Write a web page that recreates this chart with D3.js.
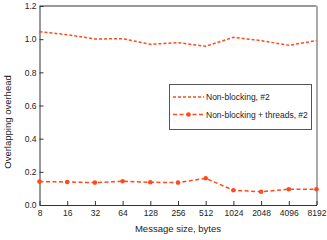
<!DOCTYPE html>
<html>
<head>
<meta charset="utf-8">
<script src="https://cdn.jsdelivr.net/npm/d3@7"></script>
<style>
  body { margin: 0; background: #fff; }
  svg { font-family: "Liberation Sans", Arial, sans-serif; }
</style>
</head>
<body>
<svg id="chart" width="327" height="240"></svg>
<script>
// message sizes (x categories)
var sizes = ["8", "16", "32", "64", "128", "256", "512", "1024", "2048", "4096", "8192"];
var nonBlocking = [1.045, 1.027, 1.001, 1.003, 0.969, 0.979, 0.957, 1.011, 0.991, 0.963, 0.991];
var nonBlockingThreads = [0.141, 0.139, 0.135, 0.143, 0.137, 0.135, 0.161, 0.089, 0.080, 0.095, 0.095];
var yTicks = [0.0, 0.2, 0.4, 0.6, 0.8, 1.0, 1.2];
var seriesNames = ["Non-blocking, #2", "Non-blocking + threads, #2"];

var color = "#ff4a1c";
var svg = d3.select("#chart");
var plotLeft = 39.5, plotRight = 316.5, plotTop = 6, plotBottom = 205;

var x = d3.scalePoint().domain(sizes).range([plotLeft, plotRight]);
var y = d3.scaleLinear().domain([0, 1.2]).range([plotBottom, plotTop]);

// frame
svg.append("line").attr("x1", plotLeft).attr("x2", plotRight).attr("y1", plotTop).attr("y2", plotTop)
    .attr("stroke", "#333").attr("stroke-width", 1);
svg.append("line").attr("x1", plotRight + 0.5).attr("x2", plotRight + 0.5).attr("y1", plotTop).attr("y2", plotBottom)
    .attr("stroke", "#aaa").attr("stroke-width", 2);

// axes, ticks pointing inward
var xAxis = svg.append("g").attr("transform", "translate(0," + plotBottom + ")")
    .call(d3.axisBottom(x).tickSizeInner(-4).tickSizeOuter(0).tickPadding(5));
var yAxis = svg.append("g").attr("transform", "translate(" + plotLeft + ",0)")
    .call(d3.axisLeft(y).tickValues(yTicks).tickFormat(d3.format(".1f"))
        .tickSizeInner(-4).tickSizeOuter(0).tickPadding(3));

[xAxis, yAxis].forEach(function (a) {
    a.select(".domain").attr("stroke", "#333");
    a.selectAll(".tick line").attr("stroke", "#333");
    a.selectAll(".tick text").attr("fill", "#222").style("font-size", "8.5px")
        .style("font-family", "Liberation Sans, Arial, sans-serif");
});

// axis titles
svg.append("text").attr("x", (plotLeft + plotRight) / 2).attr("y", 232)
    .attr("text-anchor", "middle").style("font-size", "9.5px").attr("fill", "#222")
    .text("Message size, bytes");
svg.append("text").attr("transform", "translate(11,122) rotate(-90)")
    .attr("text-anchor", "middle").style("font-size", "9.5px").attr("fill", "#222")
    .text("Overlapping overhead");

var line = d3.line()
    .x(function (d, i) { return x(sizes[i]); })
    .y(function (d) { return y(d); });

svg.append("path").datum(nonBlocking)
    .attr("d", line).attr("fill", "none").attr("stroke", color)
    .attr("stroke-width", 1.5).attr("stroke-dasharray", "3,2");

svg.append("path").datum(nonBlockingThreads)
    .attr("d", line).attr("fill", "none").attr("stroke", color)
    .attr("stroke-width", 1.5).attr("stroke-dasharray", "4,2.5");

svg.selectAll(".pt").data(nonBlockingThreads).enter().append("circle")
    .attr("class", "pt")
    .attr("cx", function (d, i) { return x(sizes[i]); })
    .attr("cy", function (d) { return y(d); })
    .attr("r", 2.3)
    .attr("fill", color);

// legend
var legend = svg.append("g");
legend.append("rect").attr("x", 169.5).attr("y", 84.5).attr("width", 142).attr("height", 45)
    .attr("fill", "#fff").attr("stroke", "#555").attr("stroke-width", 1);

var rows = legend.selectAll(".row").data(seriesNames).enter().append("g")
    .attr("transform", function (d, i) { return "translate(0," + (97 + i * 17.5) + ")"; });
rows.append("line").attr("x1", 173).attr("x2", 204).attr("y1", 0).attr("y2", 0)
    .attr("stroke", color).attr("stroke-width", 1.5)
    .attr("stroke-dasharray", function (d, i) { return i === 0 ? "3,2" : "4,2.5"; });
rows.filter(function (d, i) { return i === 1; }).append("circle")
    .attr("cx", 188.5).attr("cy", 0).attr("r", 2.3)
    .attr("fill", color);
rows.append("text").attr("x", 206).attr("y", 3).style("font-size", "8.5px").attr("fill", "#222")
    .text(function (d) { return d; });
</script>
</body>
</html>
